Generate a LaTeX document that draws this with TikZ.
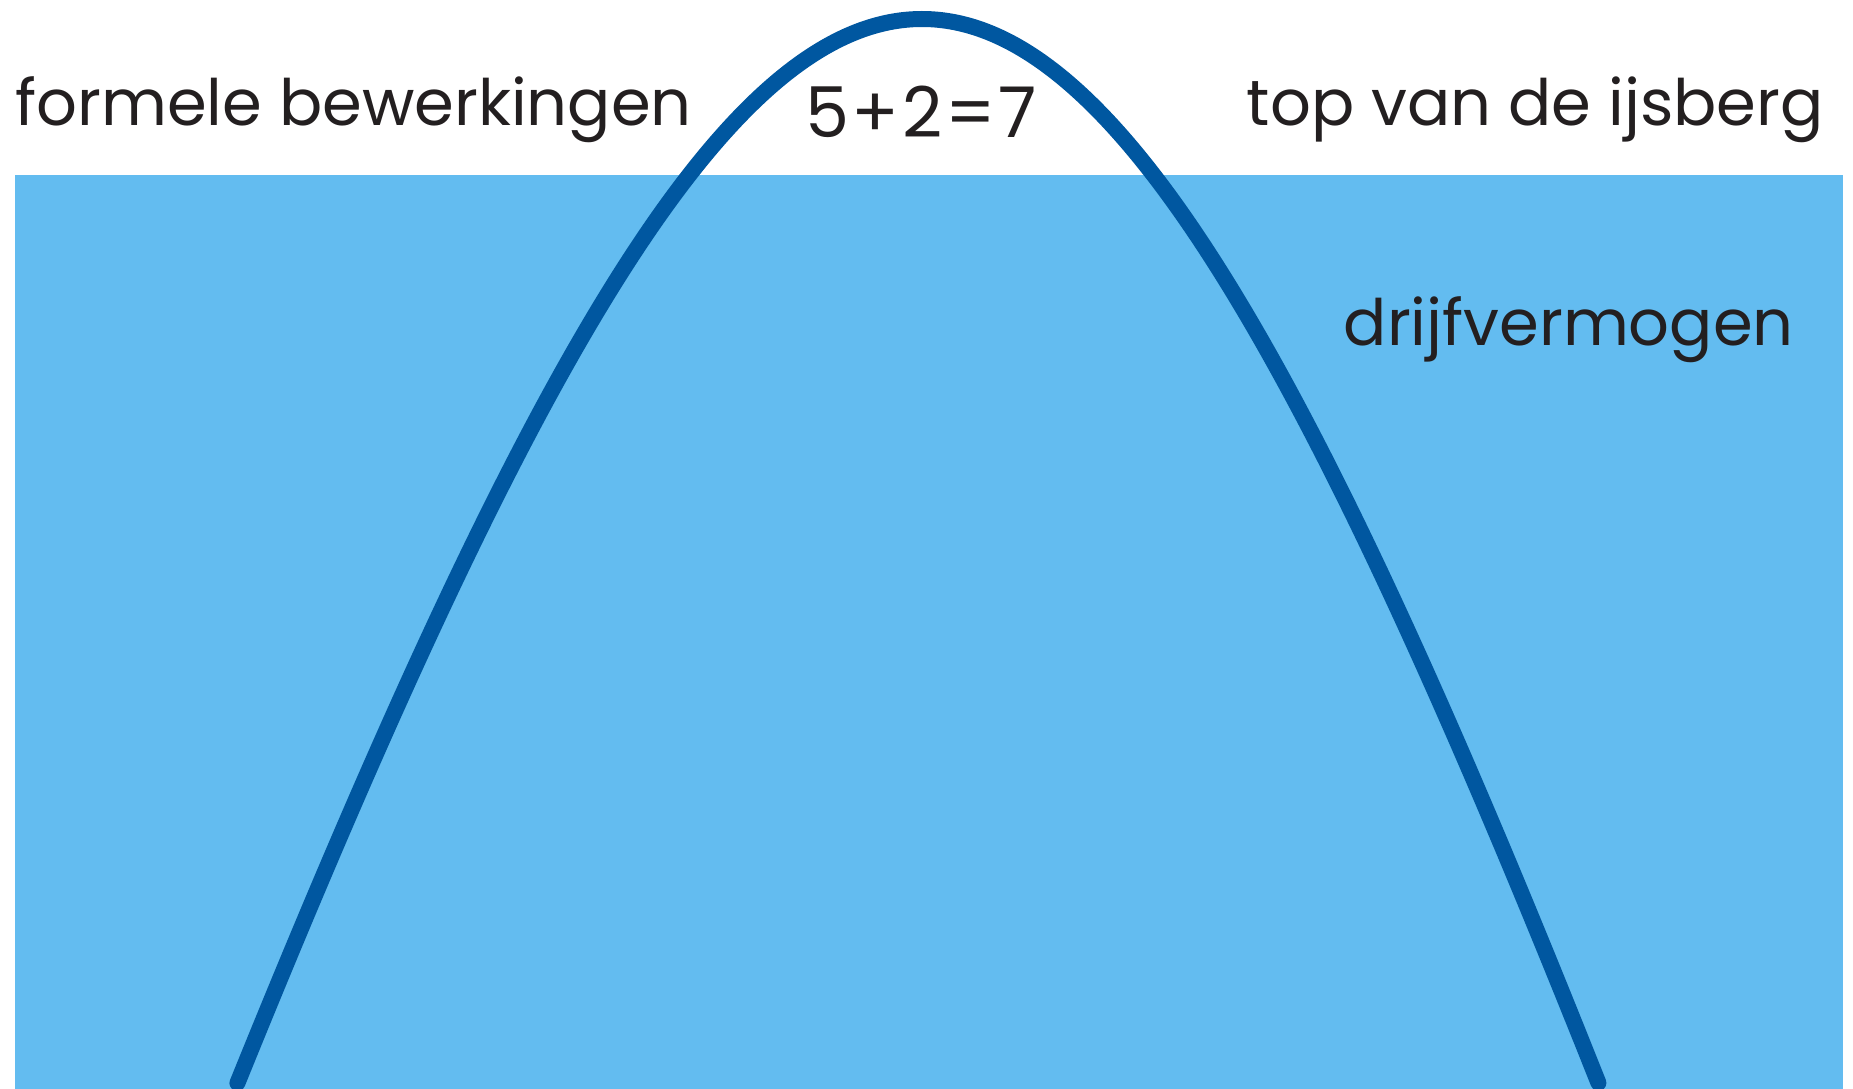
\documentclass[tikz,border=0pt]{standalone}
\usepackage{fontspec}
\setmainfont{Poppins}
\definecolor{water}{RGB}{99,188,240}
\definecolor{berg}{RGB}{0,87,160}
\definecolor{ink}{RGB}{35,31,32}
\begin{document}
\begin{tikzpicture}[x=1pt,y=-1pt,
  lbl/.style={inner sep=0pt, text=ink, font=\fontsize{64}{70}\selectfont}]
\useasboundingbox (0,0) rectangle (1853,1089);
\fill[white] (0,0) rectangle (1853,1089);
\fill[water] (15,175) rectangle (1843,1089);
\draw[berg, line width=16pt, line cap=round, line join=round]
  plot[domain=-32.62:32.62, samples=241, variable=\t, smooth]
  ({922-0.0038*\t*\t+\t*(18.2+0.0025*\t*\t)}, {19+\t*\t});
\node[lbl, anchor=base west] (formeel) at (15,126) {formele bewerkingen};
\node[lbl, anchor=base east] (top) at (1824,126) {top van de ijsberg};
\node[lbl, anchor=base east] (drijf) at (1794,345) {drijfvermogen};
\node[lbl, anchor=base, font=\fontsize{70}{76}\selectfont] (som) at (921,138) {5\kern2.5pt+\kern2.5pt2\kern2.5pt=\kern2.5pt7};
\end{tikzpicture}
\end{document}
